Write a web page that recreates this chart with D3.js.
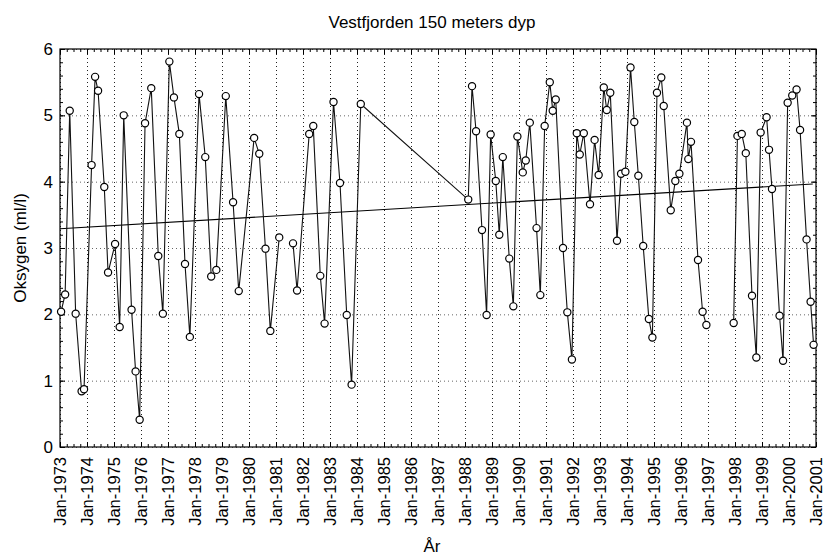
<!DOCTYPE html>
<html>
<head>
<meta charset="utf-8">
<script src="https://cdn.jsdelivr.net/npm/d3@7"></script>
<style>
  body { margin: 0; background: #fff; }
  svg text { font-family: "Liberation Sans", Arial, sans-serif; fill: #000; }
  .grid line { stroke: #222; stroke-dasharray: 1,3; }
  .grid.hor line { stroke: #666; }
  .grid path, .noline path { display: none; }
</style>
</head>
<body>
<div id="viz"></div>
<script>
// maalinger: desimalt aar og oksygen (ml/l), null = brudd i linja
var ar = [
  1973.04, 1973.19, 1973.36, 1973.58, 1973.80, 1973.89, 1974.17, 1974.30, 1974.41, 1974.64, 1974.78,
  1975.04, 1975.21, 1975.36, 1975.65, 1975.80, 1975.95, 1976.15, 1976.38, 1976.64, 1976.81,
  1977.05, 1977.22, 1977.42, 1977.63, 1977.81, 1978.15, 1978.38, 1978.60, 1978.79,
  1979.14, 1979.41, 1979.62, 1980.19, 1980.38, 1980.61, 1980.79, 1981.12, 1981.40,
  1981.63, 1981.78, 1982.23, 1982.38, 1982.64, 1982.80, 1983.13, 1983.37, 1983.62, 1983.80, 1984.14,
  1988.12, 1988.26, 1988.41, 1988.63, 1988.80, 1988.95, 1989.14, 1989.27, 1989.40, 1989.64, 1989.79, 1989.94,
  1990.14, 1990.25, 1990.40, 1990.65, 1990.79, 1990.95, 1991.14, 1991.25, 1991.36, 1991.63, 1991.79, 1991.96,
  1992.14, 1992.25, 1992.40, 1992.63, 1992.80, 1992.95, 1993.14, 1993.25, 1993.38, 1993.63, 1993.78, 1993.94,
  1994.13, 1994.27, 1994.42, 1994.60, 1994.81, 1994.94, 1995.11, 1995.27, 1995.36, 1995.62, 1995.79, 1995.94,
  1996.22, 1996.27, 1996.37, 1996.63, 1996.80, 1996.94, 1997.40,
  1997.95, 1998.09, 1998.25, 1998.40, 1998.63, 1998.79, 1998.95, 1999.17, 1999.26, 1999.37, 1999.65, 1999.78,
  1999.95, 2000.12, 2000.28, 2000.41, 2000.65, 2000.80, 2000.91
]
var oksygen = [
  2.04, 2.30, 5.07, 2.01, 0.84, 0.87, 4.25, 5.58, 5.37, 3.92, 2.63,
  3.06, 1.81, 5.00, 2.07, 1.14, 0.41, 4.88, 5.41, 2.88, 2.01,
  5.81, 5.27, 4.72, 2.76, 1.66, 5.32, 4.37, 2.57, 2.67,
  5.29, 3.69, 2.35, 4.66, 4.42, 2.99, 1.75, 3.16, null,
  3.07, 2.36, 4.72, 4.84, 2.58, 1.86, 5.20, 3.98, 1.99, 0.94, 5.17,
  3.73, 5.44, 4.76, 3.27, 1.99, 4.71, 4.01, 3.20, 4.37, 2.84, 2.12, 4.68,
  4.14, 4.32, 4.89, 3.30, 2.29, 4.84, 5.50, 5.07, 5.24, 3.00, 2.03, 1.32,
  4.73, 4.41, 4.73, 3.66, 4.63, 4.10, 5.42, 5.08, 5.34, 3.11, 4.12, 4.15,
  5.72, 4.90, 4.09, 3.03, 1.93, 1.65, 5.34, 5.57, 5.14, 3.57, 4.01, 4.12,
  4.89, 4.34, 4.60, 2.82, 2.04, 1.84, null,
  1.87, 4.69, 4.72, 4.43, 2.28, 1.35, 4.74, 4.97, 4.48, 3.89, 1.98, 1.30,
  5.19, 5.30, 5.39, 4.78, 3.13, 2.19, 1.54
]

// trendlinje, endepunkter
var trendAr = [1973.0, 2000.88]
var trendVerdi = [3.29, 3.965]

var xTicks = d3.range(1973, 2002)
var yTicks = [0, 1, 2, 3, 4, 5, 6]

var margin = { top: 49, right: 8, bottom: 110, left: 60 },
    width = 824 - margin.left - margin.right,
    height = 557 - margin.top - margin.bottom

var data = ar.map(function(a, i) { return { ar: a, v: oksygen[i] } })
var trend = trendAr.map(function(a, i) { return { ar: a, v: trendVerdi[i] } })

var xScale = d3.scaleLinear().domain([1973, 2001]).range([0, width])
var yScale = d3.scaleLinear().domain([0, 6]).range([height, 0])

var svg = d3.select('#viz').append('svg')
  .attr('width', 824)
  .attr('height', 557)

var g = svg.append('g')
  .attr('transform', 'translate(' + margin.left + ',' + margin.top + ')')

// rutenett
g.append('g').attr('class', 'grid')
  .attr('transform', 'translate(0,' + height + ')')
  .call(d3.axisBottom(xScale).tickValues(xTicks).tickSize(-height).tickFormat(''))
g.append('g').attr('class', 'grid hor')
  .call(d3.axisLeft(yScale).tickValues(yTicks).tickSize(-width).tickFormat(''))

// smaa ticks paa innsiden av rammen
var xMinor = d3.range(1973, 2001.01, 0.25)
var yMinor = d3.range(0, 6.01, 0.2)
function ticks(axis, vals, size, tr) {
  g.append('g').attr('class', 'noline')
    .attr('transform', tr)
    .call(axis.tickValues(vals).tickSize(size).tickFormat(''))
    .selectAll('line').attr('stroke', '#000')
}
ticks(d3.axisBottom(xScale), xMinor, -3, 'translate(0,' + height + ')')
ticks(d3.axisTop(xScale), xMinor, -3, 'translate(0,0)')
ticks(d3.axisLeft(yScale), yMinor, -3, 'translate(0,0)')
ticks(d3.axisRight(yScale), yMinor, -3, 'translate(' + width + ',0)')
ticks(d3.axisBottom(xScale), xTicks, -5, 'translate(0,' + height + ')')
ticks(d3.axisTop(xScale), xTicks, -5, 'translate(0,0)')
ticks(d3.axisLeft(yScale), yTicks, -5, 'translate(0,0)')
ticks(d3.axisRight(yScale), yTicks, -5, 'translate(' + width + ',0)')

// akseetiketter
var xGuide = g.append('g').attr('class', 'noline')
  .attr('transform', 'translate(0,' + height + ')')
  .call(d3.axisBottom(xScale).tickValues(xTicks).tickSize(0).tickFormat(function(d) { return 'Jan-' + d }))
xGuide.selectAll('text')
  .attr('transform', 'rotate(-90)')
  .attr('text-anchor', 'end')
  .attr('x', -10)
  .attr('y', 0)
  .attr('dy', '0.33em')
  .style('font-size', '16.5px')

var yGuide = g.append('g').attr('class', 'noline')
  .call(d3.axisLeft(yScale).tickValues(yTicks).tickSize(0).tickPadding(7).tickFormat(d3.format('d')))
yGuide.selectAll('text').style('font-size', '17px')

// ramme
g.append('rect')
  .attr('width', width).attr('height', height)
  .attr('fill', 'none').attr('stroke', '#000').attr('stroke-width', 1.2)

// trend
var line = d3.line()
  .defined(function(d) { return d.v != null })
  .x(function(d) { return xScale(d.ar) })
  .y(function(d) { return yScale(d.v) })

g.append('path').datum(trend)
  .attr('d', line)
  .attr('fill', 'none').attr('stroke', '#000').attr('stroke-width', 1.1)

g.append('path').datum(data)
  .attr('d', line)
  .attr('fill', 'none').attr('stroke', '#111').attr('stroke-width', 1.1)

g.selectAll('circle').data(data.filter(function(d) { return d.v != null }))
  .enter().append('circle')
  .attr('cx', function(d) { return xScale(d.ar) })
  .attr('cy', function(d) { return yScale(d.v) })
  .attr('r', 3.6)
  .attr('fill', '#fff')
  .attr('stroke', '#000')
  .attr('stroke-width', 1.2)

// titler
svg.append('text')
  .attr('x', 432).attr('y', 28)
  .attr('text-anchor', 'middle')
  .style('font-size', '17px')
  .text('Vestfjorden 150 meters dyp')

svg.append('text')
  .attr('transform', 'translate(26,' + (margin.top + height / 2) + ') rotate(-90)')
  .attr('text-anchor', 'middle')
  .style('font-size', '17px')
  .text('Oksygen (ml/l)')

svg.append('text')
  .attr('x', 432).attr('y', 552)
  .attr('text-anchor', 'middle')
  .style('font-size', '17px')
  .text('År')
</script>
</body>
</html>
